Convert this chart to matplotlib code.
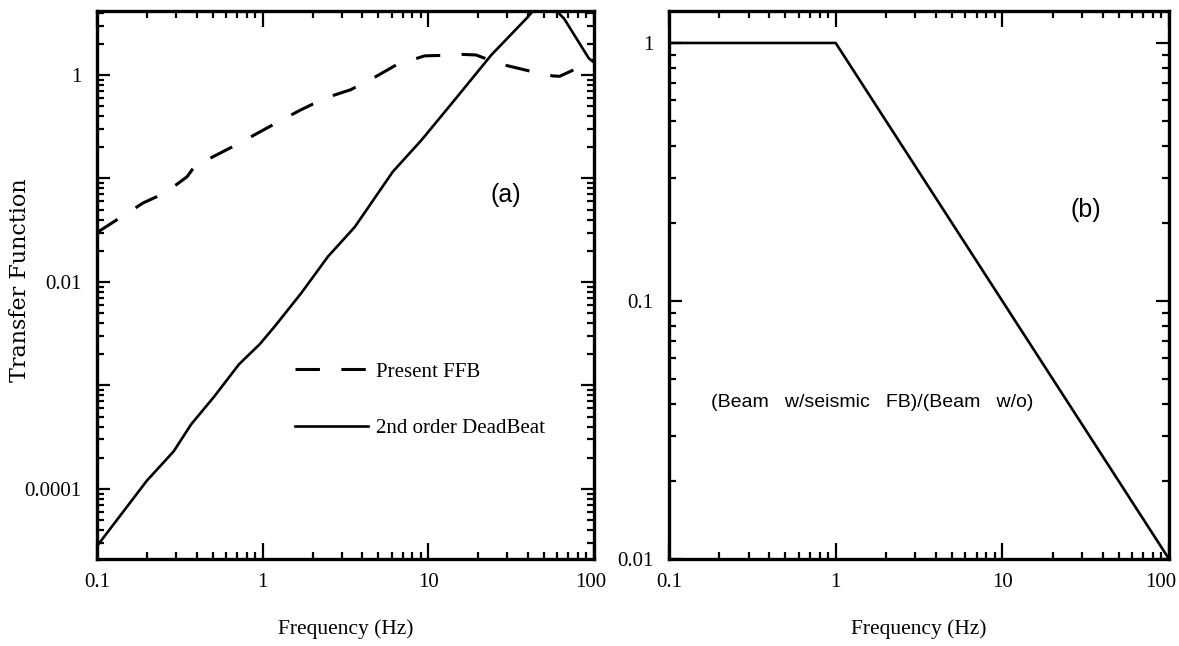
import matplotlib
matplotlib.use("Agg")
import matplotlib.pyplot as plt
from matplotlib.ticker import LogLocator, NullFormatter
from matplotlib.transforms import ScaledTranslation

# ---- data ----
ffb_freq = [0.1, 0.19, 0.26, 0.35, 0.40, 0.46, 0.66, 0.89, 1.25, 1.7, 2.4, 3.4,
            4.8, 6.4, 9.5, 13, 16, 19.4, 27, 40, 56, 62, 79, 93, 100]
ffb_val = [0.030, 0.058, 0.073, 0.104, 0.14, 0.151, 0.203, 0.263, 0.354, 0.46, 0.60, 0.72,
           0.96, 1.25, 1.53, 1.55, 1.58, 1.56, 1.28, 1.10, 0.98, 0.97, 1.16, 1.40, 1.38]

db_freq = [0.1, 0.2, 0.29, 0.37, 0.51, 0.72, 0.96, 1.18, 1.71, 2.48, 3.6, 6.1,
           9.1, 15, 24, 39, 50, 66, 93, 100]
db_val = [2.8e-5, 1.2e-4, 2.3e-4, 4.2e-4, 7.8e-4, 1.6e-3, 2.5e-3, 3.7e-3, 7.8e-3, 0.0176,
          0.034, 0.116, 0.235, 0.62, 1.56, 3.5, 5.5, 3.5, 1.45, 1.32]

ratio_freq = [0.1, 1.0, 100.0]
ratio_val = [1.0, 1.0, 0.01]

x_ticks = [0.1, 1, 10, 100]
x_ticklabels = ["0.1", "1", "10", "100"]
left_yticks = [1e-4, 1e-3, 1e-2, 1e-1, 1]
left_yticklabels = ["0.0001", "", "0.01", "", "1"]
right_yticks = [0.01, 0.1, 1]
right_yticklabels = ["0.01", "0.1", "1"]

legend_labels = ["Present FFB", "2nd order DeadBeat"]
annotation = "(Beam   w/seismic   FB)/(Beam   w/o)"

# ---- figure ----
W, H = 1179, 646
fig = plt.figure(figsize=(W / 100, H / 100), dpi=100)

serif = ["Liberation Serif", "DejaVu Serif"]
narrow = ["Liberation Sans Narrow", "Liberation Sans", "DejaVu Sans"]

def frac_axes(x0, x1, ytop, ybot):
    return [x0 / W, 1 - ybot / H, (x1 - x0) / W, (ybot - ytop) / H]

axL = fig.add_axes(frac_axes(97, 594, 11, 559))
axR = fig.add_axes(frac_axes(669, 1169, 11, 559))

def style(ax, yticks, ylabels, ylim):
    ax.set_xscale("log")
    ax.set_yscale("log")
    ax.set_xlim(0.1, 100)
    ax.set_ylim(*ylim)
    for s in ax.spines.values():
        s.set_linewidth(2.4)
    ax.set_xticks(x_ticks)
    ax.set_xticklabels(x_ticklabels)
    ax.set_yticks(yticks)
    ax.set_yticklabels(ylabels)
    ax.xaxis.set_minor_locator(LogLocator(base=10, subs=range(2, 10)))
    ax.yaxis.set_minor_locator(LogLocator(base=10, subs=range(2, 10)))
    ax.xaxis.set_minor_formatter(NullFormatter())
    ax.yaxis.set_minor_formatter(NullFormatter())
    ax.tick_params(axis="both", which="both", direction="in", top=True, right=True,
                   width=1.6, color="black")
    ax.tick_params(axis="x", which="major", length=11.5, pad=10)
    ax.tick_params(axis="y", which="major", length=9.5, pad=11)
    ax.tick_params(axis="both", which="minor", length=5.2)
    for lab in ax.get_xticklabels() + ax.get_yticklabels():
        lab.set_fontfamily(serif)
        lab.set_fontsize(15)
    ax.set_xlabel("Frequency (Hz)", fontfamily=serif, fontsize=15.5)
    ax.xaxis.set_label_coords(0.5, -(619 - 559) / 548)

style(axL, left_yticks, left_yticklabels, (2.1e-5, 4.15))
style(axR, right_yticks, right_yticklabels, (0.01, 1.33))

# nudge the last x tick labels so they stay inside the picture, as in the reference
for ax, dx in ((axL, -3), (axR, -8)):
    lab = ax.xaxis.get_major_ticks()[-1].label1
    lab.set_transform(lab.get_transform() + ScaledTranslation(dx / 100, 0, fig.dpi_scale_trans))

# left panel curves
axL.plot(ffb_freq, ffb_val, color="black", lw=2.2, linestyle=(0, (8, 7)),
         label=legend_labels[0])
axL.plot(db_freq, db_val, color="black", lw=1.9, label=legend_labels[1])
leg = axL.legend(loc="center left", bbox_to_anchor=(0.398, 0.29), frameon=False,
                 borderpad=0, borderaxespad=0, handlelength=3.5, handletextpad=0.4,
                 labelspacing=1.78, prop={"family": serif, "size": 15})
axL.text(0.823, 0.664, "(a)", transform=axL.transAxes, ha="center", va="center",
         fontsize=18, family=narrow)

# right panel curve
axR.plot(ratio_freq, ratio_val, color="black", lw=1.9)
axR.text(0.834, 0.637, "(b)", transform=axR.transAxes, ha="center", va="center",
         fontsize=18, family=narrow)
axR.text(0.406, 0.286, annotation, transform=axR.transAxes, ha="center", va="center",
         fontsize=14, family=narrow)

fig.text(20 / W, 1 - 280 / H, "Transfer Function", rotation=90, ha="center",
         va="center", fontsize=16, family=["DejaVu Serif"])

fig.savefig("out.png", dpi=100)
